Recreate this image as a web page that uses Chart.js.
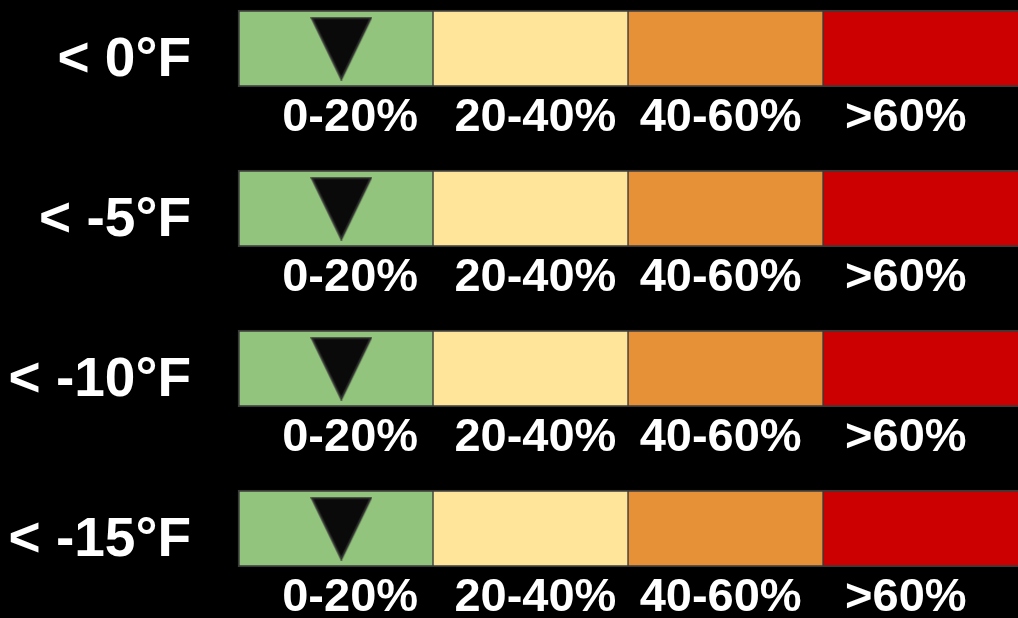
<!DOCTYPE html>
<html>
<head>
<meta charset="utf-8">
<script src="https://cdn.jsdelivr.net/npm/chart.js@4/dist/chart.umd.min.js"></script>
<style>
  html, body { margin: 0; padding: 0; background: #000; }
  canvas { display: block; }
</style>
</head>
<body>
<canvas id="c" width="1018" height="618"></canvas>
<script>
// ---- data ----
const rowLabels = ['< 0°F', '< -5°F', '< -10°F', '< -15°F'];
const bandLabels = ['0-20%', '20-40%', '40-60%', '>60%'];
const band0to20 = [20, 20, 20, 20];
const band20to40 = [20, 20, 20, 20];
const band40to60 = [20, 20, 20, 20];
const bandOver60 = [20, 20, 20, 20];
const markerValues = [10.6, 10.6, 10.6, 10.6];

// ---- styles ----
const bandColors = ['#93c47d', '#ffe599', '#e69138', '#cc0000'];
const edge = '#3a3a3a';
const fontFamily = '"Liberation Sans", Arial, Helvetica, sans-serif';
const labelSpread = 0.95; // band labels pulled slightly toward the bar middle

// downward triangle marker image
const tri = document.createElement('canvas');
tri.width = 62; tri.height = 64;
(function () {
  const g = tri.getContext('2d');
  g.beginPath();
  g.moveTo(1.5, 1.5);
  g.lineTo(60.5, 1.5);
  g.lineTo(31, 62.5);
  g.closePath();
  g.fillStyle = '#0a0a0a';
  g.fill();
  g.lineWidth = 2;
  g.strokeStyle = '#333333';
  g.stroke();
})();

const bandSeries = [band0to20, band20to40, band40to60, bandOver60];
const borderWidths = [
  { top: 2, bottom: 2, left: 2, right: 1 },
  { top: 2, bottom: 2, left: 1, right: 1 },
  { top: 2, bottom: 2, left: 1, right: 1 },
  { top: 2, bottom: 2, left: 1, right: 0 }
];

const barDatasets = bandSeries.map((vals, j) => ({
  type: 'bar',
  label: bandLabels[j],
  data: vals,
  indexAxis: 'y',
  stack: 'bands',
  backgroundColor: bandColors[j],
  borderColor: edge,
  borderWidth: borderWidths[j],
  borderSkipped: false,
  barThickness: 77,
  clip: false,
  order: 2
}));

const markerDataset = {
  type: 'scatter',
  label: 'marker',
  data: markerValues.map((v, i) => ({ x: v, y: rowLabels[i] })),
  pointStyle: tri,
  pointRadius: 31,
  pointHoverRadius: 31,
  clip: false,
  order: 1
};

const bgPlugin = {
  id: 'bg',
  beforeDraw(chart) {
    const ctx = chart.ctx;
    ctx.save();
    ctx.fillStyle = '#000';
    ctx.fillRect(0, 0, chart.width, chart.height);
    ctx.restore();
  }
};

const bandLabelPlugin = {
  id: 'bandLabels',
  afterDatasetsDraw(chart) {
    const ctx = chart.ctx;
    const xs = chart.scales.x, ys = chart.scales.y;
    ctx.save();
    ctx.fillStyle = '#ffffff';
    ctx.font = 'bold 47px ' + fontFamily;
    ctx.textAlign = 'center';
    ctx.textBaseline = 'middle';
    rowLabels.forEach((r, i) => {
      const y = ys.getPixelForValue(i) + 70;
      let total = 0;
      bandSeries.forEach(vals => { total += vals[i]; });
      const mid = xs.getPixelForValue(total / 2);
      let start = 0;
      bandSeries.forEach((vals, j) => {
        const w = vals[i];
        const cx = xs.getPixelForValue(start + w / 2);
        const x = mid + (cx - mid) * labelSpread;
        ctx.fillText(bandLabels[j], x, y);
        start += w;
      });
    });
    ctx.restore();
  }
};

new Chart(document.getElementById('c'), {
  type: 'bar',
  data: {
    labels: rowLabels,
    datasets: [markerDataset, ...barDatasets]
  },
  options: {
    responsive: false,
    animation: false,
    events: [],
    layout: { autoPadding: false, padding: { top: 48.5, bottom: 89.5, left: 0, right: 0 } },
    plugins: { legend: { display: false }, tooltip: { enabled: false } },
    scales: {
      x: {
        type: 'linear', min: 0, max: 80, display: false, offset: false,
        grid: { offset: false }
      },
      y: {
        type: 'category',
        labels: rowLabels,
        offset: false,
        grid: { display: false, drawTicks: false, offset: false },
        border: { display: false },
        afterFit(scale) {
          scale.width = 238;
          scale.paddingTop = 0;
          scale.paddingBottom = 0;
        },
        ticks: {
          autoSkip: false,
          color: '#ffffff',
          padding: 47,
          labelOffset: 12,
          crossAlign: 'near',
          font: { family: fontFamily, weight: 'bold', size: 55 }
        }
      }
    }
  },
  plugins: [bgPlugin, bandLabelPlugin]
});
</script>
</body>
</html>
